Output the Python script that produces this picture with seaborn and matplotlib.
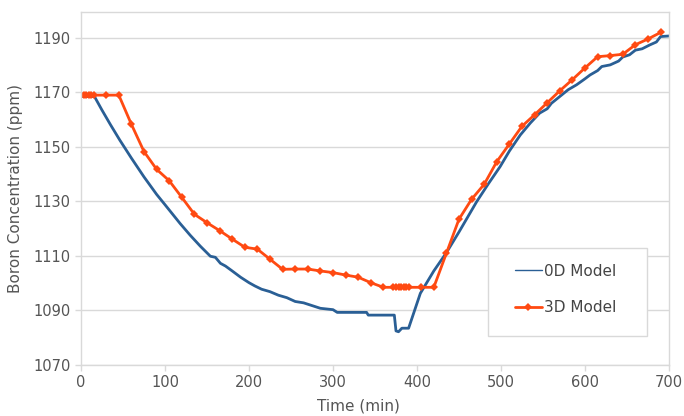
import matplotlib
matplotlib.use("Agg")
import matplotlib.pyplot as plt
import matplotlib.patches as mpatches
import seaborn as sns
import pandas as pd

# 0D model (time in min, boron ppm)
t_0d = [0, 16, 25, 35, 46, 60, 75, 90, 100, 106, 118, 130, 142, 154, 160, 166, 172,
        180, 190, 200, 207, 215, 225, 235, 245, 255, 265, 275, 285, 300, 305, 340,
        342, 373, 375, 378, 382, 390, 404, 420, 435, 450, 471, 485, 499, 510, 523,
        535, 546, 555, 560, 570, 580, 590, 600, 606, 615, 620, 630, 640, 645, 653,
        660, 668, 677, 685, 690, 700]
c_0d = [1168.5, 1168.5, 1163.5, 1158.2, 1152.6, 1145.9, 1139.0, 1132.6, 1128.8,
        1126.5, 1121.9, 1117.6, 1113.6, 1109.9, 1109.5, 1107.3, 1106.3, 1104.5,
        1102.2, 1100.2, 1099.0, 1097.8, 1096.9, 1095.6, 1094.7, 1093.3, 1092.8,
        1091.8, 1090.8, 1090.3, 1089.3, 1089.3, 1088.3, 1088.3, 1082.5, 1082.2,
        1083.5, 1083.5, 1096.3, 1104.5, 1111.2, 1118.8, 1129.9, 1136.5, 1142.8,
        1148.5, 1154.4, 1158.8, 1162.4, 1164.0, 1166.0, 1168.5, 1171.0, 1172.8,
        1175.0, 1176.4, 1178.0, 1179.5, 1180.1, 1181.5, 1183.0, 1183.8, 1185.5,
        1186.0, 1187.4, 1188.5, 1190.5, 1190.7]

# 3D model
t_3d = [0, 3, 6, 9, 12, 15, 30, 45, 60, 75, 90, 105, 120, 135, 150, 165, 180, 195,
        210, 225, 240, 255, 270, 285, 300, 315, 330, 345, 360, 372, 375, 378, 381,
        384, 387, 390, 405, 420, 435, 450, 465, 480, 495, 510, 525, 540, 555, 570,
        585, 600, 615, 630, 645, 660, 675, 690]
c_3d = [1169.0, 1169.0, 1169.0, 1169.0, 1169.0, 1169.0, 1169.0, 1169.0, 1158.3,
        1148.3, 1141.8, 1137.6, 1131.5, 1125.3, 1122.2, 1119.3, 1116.2, 1113.2,
        1112.5, 1108.8, 1105.1, 1105.2, 1105.2, 1104.5, 1103.9, 1103.0, 1102.2,
        1100.2, 1098.5, 1098.5, 1098.5, 1098.5, 1098.5, 1098.5, 1098.5, 1098.5,
        1098.5, 1098.5, 1111.0, 1123.5, 1130.8, 1136.3, 1144.6, 1151.1, 1157.6,
        1161.8, 1166.2, 1170.6, 1174.7, 1179.0, 1183.1, 1183.5, 1184.0, 1187.5,
        1189.6, 1192.0]

series_names = ["0D Model", "3D Model"]
x_ticks = [0, 100, 200, 300, 400, 500, 600, 700]
y_ticks = [1070, 1090, 1110, 1130, 1150, 1170, 1190]

df0 = pd.DataFrame({"t": t_0d, "c": c_0d})
df3 = pd.DataFrame({"t": t_3d, "c": c_3d})

sns.set_style("white")
plt.rcParams["font.family"] = ["DejaVu Sans"]

fig = plt.figure(figsize=(6.84, 4.16), dpi=100)
ax = fig.add_axes([81 / 684, 1 - 365 / 416, 588 / 684, 353 / 416])

blue = "#2a5f95"
orange = "#ff4a12"

sns.lineplot(data=df0, x="t", y="c", ax=ax, color=blue, linewidth=2.0,
             estimator=None, sort=False, label=series_names[0])
sns.lineplot(data=df3, x="t", y="c", ax=ax, color=orange, linewidth=2.0,
             marker="D", markersize=4.5, markeredgewidth=0, estimator=None,
             sort=False, label=series_names[1])

ax.set_xlim(0, 700)
ax.set_ylim(1070, 1199.5)
ax.set_xticks(x_ticks)
ax.set_yticks(y_ticks)
ax.grid(True, axis="y", color="#d9d9d9", linewidth=1.0)
ax.set_axisbelow(True)
for s in ax.spines.values():
    s.set_color("#d9d9d9")
    s.set_linewidth(1.0)
ax.tick_params(axis="both", colors="#d9d9d9", labelcolor="#555555",
               labelsize=10.5, length=4, width=1, direction="out")
ax.tick_params(axis="both", bottom=True, left=True)

ax.set_xlabel("Time (min)", fontsize=11, color="#555555")
ax.set_ylabel("Boron Concentration (ppm)", fontsize=11, color="#555555")
ax.xaxis.set_label_coords((358 - 81) / 588, -0.094)
ax.yaxis.set_label_coords(-0.098, 0.5)

# legend frame
frame = mpatches.Rectangle(((488 - 81) / 588, (365 - 336) / 353), 159 / 588, 88 / 353,
                           transform=ax.transAxes, facecolor="white",
                           edgecolor="#d9d9d9", linewidth=1.0, zorder=5)
ax.add_patch(frame)
leg = ax.legend(loc="center left", bbox_to_anchor=((515 - 81) / 588, (365 - 289.5) / 353),
                frameon=False, fontsize=11, labelspacing=1.4, borderpad=0,
                handlelength=1.75, handletextpad=0.15, borderaxespad=0)
leg.set_zorder(6)
for txt in leg.get_texts():
    txt.set_color("#444444")
leg.get_lines()[0].set_linewidth(1.0)

fig.savefig("out.png", dpi=100)
